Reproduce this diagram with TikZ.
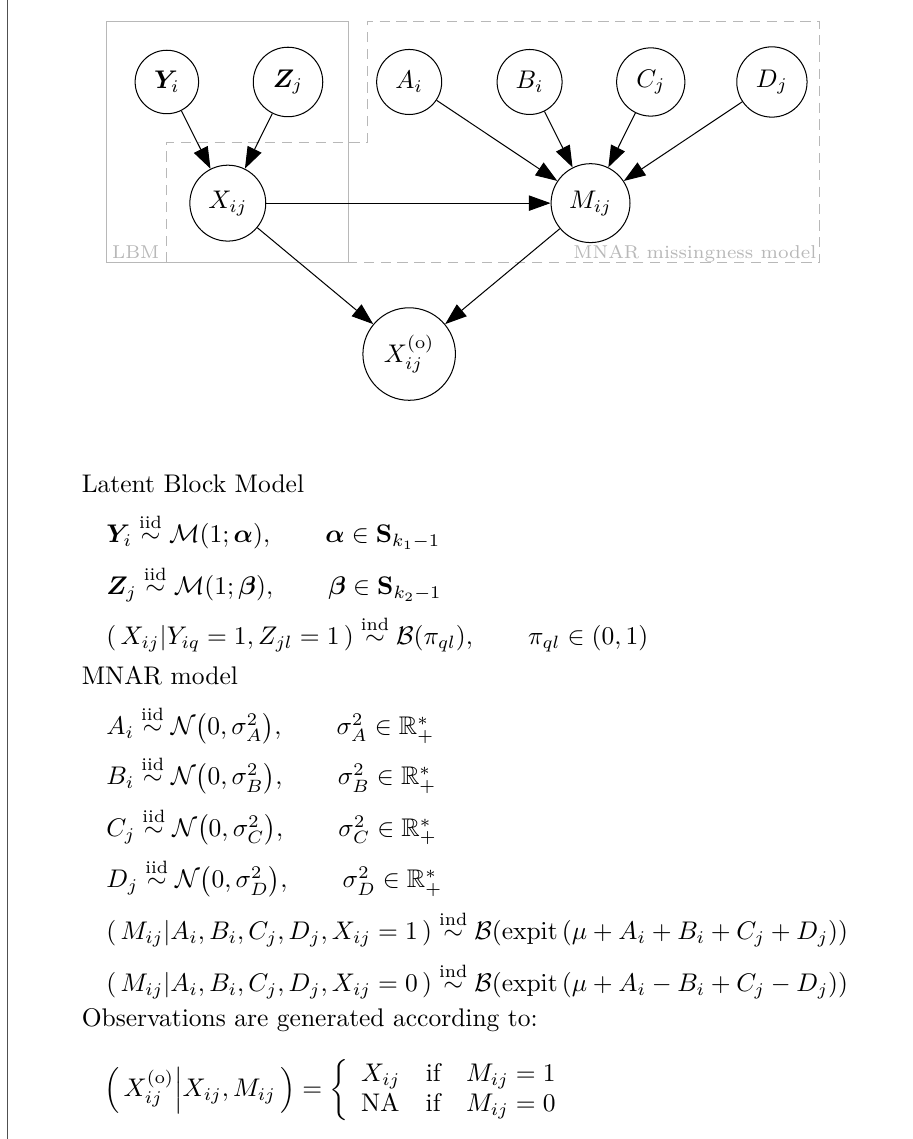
\documentclass[tikz,border=0pt]{standalone}
\usepackage{amsmath,amssymb,bm}
\usepackage{tikz}
\usetikzlibrary{arrows.meta,positioning}
\definecolor{PlateGray}{HTML}{B8B8B8}
\definecolor{FrameGray}{HTML}{505050}

\begin{document}
\begin{tikzpicture}[
  var/.style={circle,draw,inner sep=4.2pt},
  arr/.style={-{Triangle[length=8.5pt,width=6pt]},thin},
  plate/.style={draw=PlateGray,thin},
  platelbl/.style={text=PlateGray,font=\fontsize{7.3}{8}\selectfont,inner sep=0pt},
  txt/.style={anchor=base west,inner sep=0pt}
]
\useasboundingbox (0,0) rectangle (12.58,-15.70);
\draw[FrameGray] (0.10,0) -- (0.10,-15.70);

\draw[plate,dash pattern=on 4pt off 2.6pt] (2.30,-3.62) -- (2.30,-1.96) -- (5.06,-1.96) -- (5.06,-0.29)
  -- (11.30,-0.29) -- (11.30,-3.62) -- cycle;
\draw[plate] (1.47,-0.29) rectangle (4.81,-3.62);
\node[platelbl,anchor=base west] (lbm) at (1.54,-3.56) {LBM};
\node[platelbl,anchor=base east] (mnar) at (11.26,-3.56) {MNAR missingness model};

\node[var] (Y) at (2.30,-1.13) {$\bm{Y}_i$};
\node[var] (Z) at (3.97,-1.13) {$\bm{Z}_j$};
\node[var] (A) at (5.64,-1.13) {$A_i$};
\node[var] (B) at (7.30,-1.13) {$B_i$};
\node[var] (C) at (8.97,-1.13) {$C_j$};
\node[var] (D) at (10.64,-1.13) {$D_j$};
\node[var] (X) at (3.14,-2.80) {$X_{ij}$};
\node[var] (M) at (8.14,-2.80) {$M_{ij}$};
\node[var] (Xo) at (5.64,-4.88) {$X_{ij}^{(\mathrm{o})}$};

\draw[arr] (Y) -- (X);
\draw[arr] (Z) -- (X);
\draw[arr] (A) -- (M);
\draw[arr] (B) -- (M);
\draw[arr] (C) -- (M);
\draw[arr] (D) -- (M);
\draw[arr] (X) -- (M);
\draw[arr] (X) -- (Xo);
\draw[arr] (M) -- (Xo);

\node[txt] (lbmtitle) at (1.12,-6.79) {Latent Block Model};
\node[txt] (eqY) at (1.46,-7.48) {$\bm{Y}_i \overset{\text{iid}}{\sim} \mathcal{M}(1;\bm{\alpha}),\qquad \bm{\alpha}\in\mathbf{S}_{k_1-1}$};
\node[txt] (eqZ) at (1.46,-8.20) {$\bm{Z}_j \overset{\text{iid}}{\sim} \mathcal{M}(1;\bm{\beta}),\qquad \bm{\beta}\in\mathbf{S}_{k_2-1}$};
\node[txt] (eqX) at (1.46,-8.89) {$\left(\,X_{ij}|Y_{iq}=1,Z_{jl}=1\,\right)\overset{\text{ind}}{\sim}\mathcal{B}(\pi_{ql}),\qquad \pi_{ql}\in(0,1)$};
\node[txt] (mnartitle) at (1.12,-9.43) {MNAR model};
\node[txt] (eqA) at (1.46,-10.13) {$A_i \overset{\text{iid}}{\sim} \mathcal{N}\bigl(0,\sigma_A^2\bigr),\qquad \sigma_A^2\in\mathbb{R}_+^*$};
\node[txt] (eqB) at (1.46,-10.82) {$B_i \overset{\text{iid}}{\sim} \mathcal{N}\bigl(0,\sigma_B^2\bigr),\qquad \sigma_B^2\in\mathbb{R}_+^*$};
\node[txt] (eqC) at (1.46,-11.53) {$C_j \overset{\text{iid}}{\sim} \mathcal{N}\bigl(0,\sigma_C^2\bigr),\qquad \sigma_C^2\in\mathbb{R}_+^*$};
\node[txt] (eqD) at (1.46,-12.24) {$D_j \overset{\text{iid}}{\sim} \mathcal{N}\bigl(0,\sigma_D^2\bigr),\qquad \sigma_D^2\in\mathbb{R}_+^*$};
\node[txt] (eqM1) at (1.46,-12.95) {$\left(\,M_{ij}|A_i,B_i,C_j,D_j,X_{ij}=1\,\right)\overset{\text{ind}}{\sim}\mathcal{B}(\mathrm{expit}\,(\mu+A_i+B_i+C_j+D_j))$};
\node[txt] (eqM0) at (1.46,-13.67) {$\left(\,M_{ij}|A_i,B_i,C_j,D_j,X_{ij}=0\,\right)\overset{\text{ind}}{\sim}\mathcal{B}(\mathrm{expit}\,(\mu+A_i-B_i+C_j-D_j))$};
\node[txt] (obstitle) at (1.12,-14.15) {Observations are generated according to:};
\node[anchor=west,inner sep=0pt] (eqO) at (1.43,-15.03) {$\left(\,X_{ij}^{(\mathrm{o})}\middle|X_{ij},M_{ij}\,\right)=\left\{\begin{array}{lll}X_{ij} & \text{if} & M_{ij}=1\\ \text{NA} & \text{if} & M_{ij}=0\end{array}\right.$};
\end{tikzpicture}
\end{document}
